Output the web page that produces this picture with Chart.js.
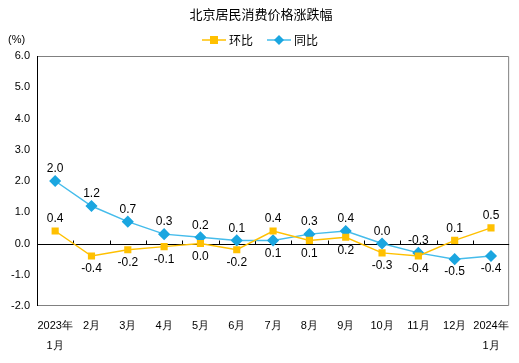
<!DOCTYPE html>
<html><head><meta charset="utf-8">
<script src="https://cdn.jsdelivr.net/npm/chart.js@4"></script>
<style>html,body{margin:0;padding:0;background:#fff}#wrap{width:519px;height:363px}</style>
</head><body><div id="wrap"><canvas id="c" width="519" height="363"></canvas></div>
<script>
const categories = [['2023年','1月'],'2月','3月','4月','5月','6月','7月','8月','9月','10月','11月','12月',['2024年','1月']];
const momValues = [0.4,-0.4,-0.2,-0.1,0.0,-0.2,0.4,0.1,0.2,-0.3,-0.4,0.1,0.5];
const yoyValues = [2.0,1.2,0.7,0.3,0.2,0.1,0.1,0.3,0.4,0.0,-0.3,-0.5,-0.4];
const yTicks = [-2,-1,0,1,2,3,4,5,6];
const seriesNames = ['环比','同比'];
const titleText = '北京居民消费价格涨跌幅';
const unitText = '(%)';

const ORANGE = '#FFC000', BLUE = '#1BA6E0', BLUELINE = '#45BCEB';
const momAbove = [true,false,false,false,false,false,true,false,false,false,false,true,true];
const yoyAbove = [true,true,true,true,true,true,false,true,true,true,true,false,false];

const deco = {
  id:'deco',
  beforeDatasetsDraw(chart){
    const {ctx, chartArea:a, scales:{x,y}} = chart;
    ctx.save();
    ctx.lineWidth = 1;
    ctx.strokeStyle = '#808080';
    ctx.beginPath();
    ctx.moveTo(a.left, a.top+0.5); ctx.lineTo(a.right-0.5, a.top+0.5);
    ctx.lineTo(a.right-0.5, a.bottom-0.5); ctx.lineTo(a.left, a.bottom-0.5);
    ctx.stroke();
    ctx.strokeStyle = '#000';
    ctx.beginPath(); ctx.moveTo(a.left+0.5, a.top); ctx.lineTo(a.left+0.5, a.bottom); ctx.stroke();
    const y0 = Math.round(y.getPixelForValue(0))+0.5;
    ctx.beginPath(); ctx.moveTo(a.left, y0); ctx.lineTo(a.right, y0);
    const n = categories.length;
    for (let i=1;i<n;i++){
      const bx = Math.round((x.getPixelForValue(i-1)+x.getPixelForValue(i))/2)+0.5;
      ctx.moveTo(bx, y0); ctx.lineTo(bx, y0-4);
    }
    ctx.stroke();
    ctx.fillStyle = '#000';
    ctx.font = '13px "Noto Sans CJK SC"';
    ctx.textAlign = 'center'; ctx.textBaseline = 'middle';
    ctx.fillText(titleText, 261, 14);
    ctx.font = '11px "Liberation Sans"';
    ctx.textAlign = 'left';
    ctx.fillText(unitText, 8, 40);
    const items = [{x:202,c:ORANGE,s:'rect'},{x:267,c:BLUELINE,pc:BLUE,s:'diamond'}];
    ctx.font = '12px "Noto Sans CJK SC"';
    items.forEach((it,k)=>{
      ctx.strokeStyle = it.c; ctx.lineWidth = 1.5;
      ctx.beginPath(); ctx.moveTo(it.x, 40); ctx.lineTo(it.x+24, 40); ctx.stroke();
      ctx.fillStyle = it.pc || it.c;
      const cx = it.x+12;
      if (it.s==='rect') ctx.fillRect(cx-4, 36, 8, 8);
      else { ctx.beginPath(); ctx.moveTo(cx,35); ctx.lineTo(cx+5,40); ctx.lineTo(cx,45); ctx.lineTo(cx-5,40); ctx.closePath(); ctx.fill(); }
      ctx.fillStyle = '#000'; ctx.textAlign='left';
      ctx.fillText(seriesNames[k], it.x+27, 40);
    });
    ctx.restore();
  },
  afterDatasetsDraw(chart){
    const {ctx} = chart;
    ctx.save();
    ctx.fillStyle = '#000';
    ctx.font = '12px "Liberation Sans"';
    ctx.textAlign = 'center'; ctx.textBaseline = 'middle';
    const sets = [[momValues, momAbove],[yoyValues, yoyAbove]];
    sets.forEach(([vals, above], d)=>{
      const meta = chart.getDatasetMeta(d);
      meta.data.forEach((pt,i)=>{
        const yy = above[i] ? pt.y-12 : pt.y+13;
        ctx.fillText(vals[i].toFixed(1), pt.x, yy);
      });
    });
    ctx.restore();
  }
};

new Chart(document.getElementById('c'), {
  type:'line',
  data:{
    labels: categories,
    datasets:[
      {label:seriesNames[0], data:momValues, borderColor:ORANGE, backgroundColor:ORANGE, borderWidth:1.5,
       pointStyle:'rect', pointRadius:4, pointHoverRadius:4, tension:0},
      {label:seriesNames[1], data:yoyValues, borderColor:BLUELINE, backgroundColor:BLUE, pointBorderColor:BLUE, borderWidth:1.5,
       pointStyle:'rectRot', pointRadius:5, pointHoverRadius:5, tension:0}
    ]
  },
  plugins:[deco],
  options:{
    responsive:false, animation:false,
    layout:{padding:{top:56,right:7,left:0,bottom:0}},
    plugins:{legend:{display:false}, tooltip:{enabled:false}, title:{display:false}},
    scales:{
      x:{
        offset:true,
        grid:{display:false, drawTicks:false, offset:true}, border:{display:false},
        ticks:{color:'#000', font:{family:'Liberation Sans', size:11, lineHeight:1.8}, padding:10, maxRotation:0, autoSkip:false},
        afterFit(s){ s.height = 57; }
      },
      y:{
        min:-2, max:6,
        afterBuildTicks(s){ s.ticks = yTicks.map(v=>({value:v})); },
        grid:{display:false, drawTicks:false}, border:{display:false},
        ticks:{color:'#000', font:{family:'Liberation Sans', size:11}, padding:7, callback:v=>Number(v).toFixed(1)},
        afterFit(s){ s.width = 37; }
      }
    }
  }
});
</script></body></html>
